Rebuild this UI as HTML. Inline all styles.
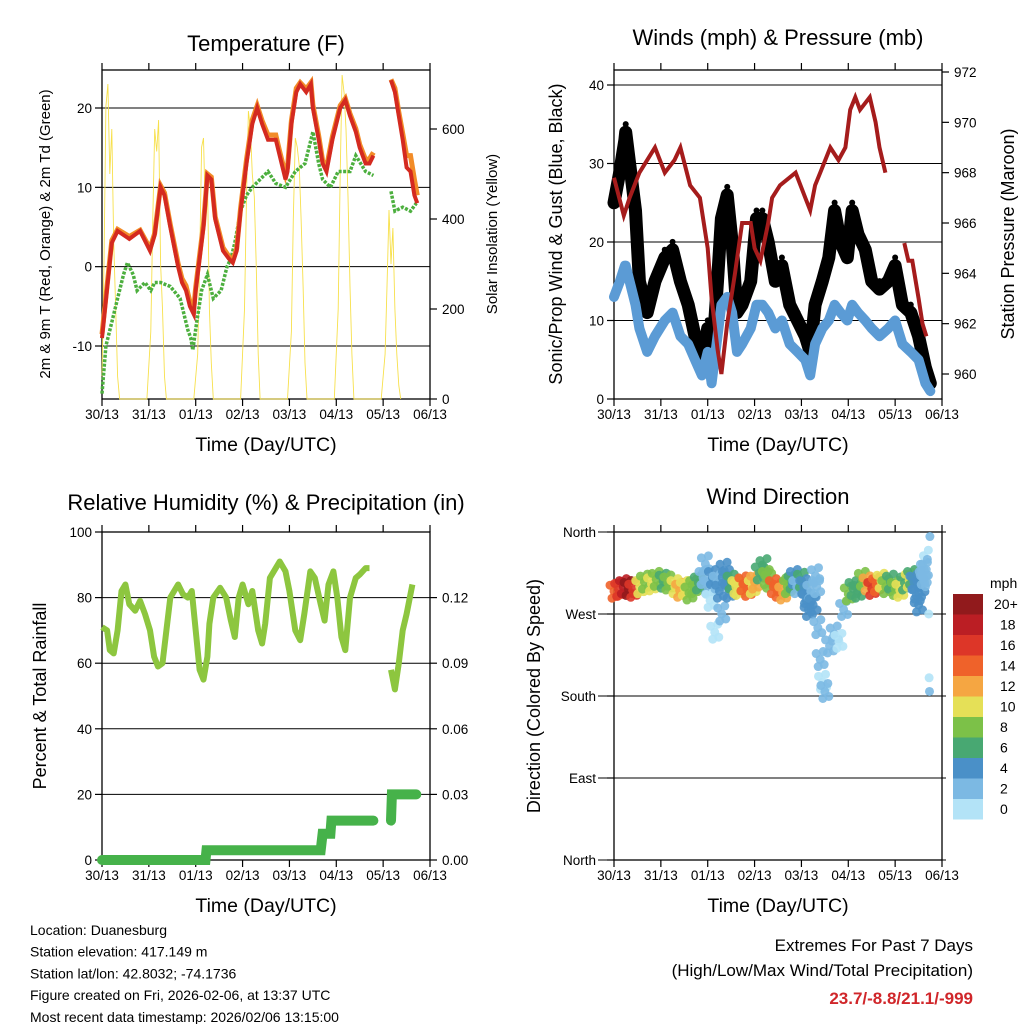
<!DOCTYPE html>
<html><head><meta charset="utf-8"><style>
body{margin:0;background:#fff;}
svg{font-family:"Liberation Sans",Arial,sans-serif;}
</style></head><body>
<svg id="c" width="1024" height="1024" viewBox="0 0 1024 1024"></svg>
<script>
// ---------- DATA (time in hours since 30/13) ----------
const dayLabels=["30/13","31/13","01/13","02/13","03/13","04/13","05/13","06/13"];
// Temperature
const redT=[0,5,8,14,19.5,24.6,27,30,32,35,39,41,43,45,47,48,50,52,54,56,58,62,65,67,69,71,74,77,79.5,82,85,89,91,94,95,97,99.5,101.5,104.6,107,108,111,113,115,118,122,124.6,127,130,132,135,137,139,null,148,150,152,154,156,158,160,161.5];
const redV=[-9,3,4.5,3.5,4.5,2,4,10,9,5,0,-2,-3,-5,-6,-3,1,5,11.5,11,6,2,1,0.5,2,7,13,18,20,18,16,16,14,11,12,18,22,23,22,23,20,16,13,12,16,20,21,19,17,15,13,13,14,null,23.5,22,19,16,12.5,12,9,8];
const orangeV=[-8.5,3.3,4.7,3.8,4.6,2.3,4.2,10.2,9.3,5.3,0.4,-1.5,-2.4,-4.4,-5.2,-2.6,1.4,5.4,11.7,11.3,6.3,2.4,1.3,0.8,2.3,7.4,13.5,18.5,20.3,18.4,16.6,16.6,14.5,11.6,12.5,18.4,22.5,23.2,22.4,23.2,20.4,16.5,13.4,12.5,16.4,20.3,21.2,19.3,17.4,15.4,13.5,13.6,14.4,null,23.6,22.5,19.5,16.8,14,14,11,9];
const tdT=[0,2,5,8,11,13,16,18,22,25,27,30,35,40,44,45.5,46.5,48.5,51,54,57,61,64,66,68,71,74,77,81,85,89,94,99,104,108,111,113,117,121,127,130,135,139,null,148,150,154,158,161];
const tdV=[-16,-10,-7,-4,-1,0.5,-1,-3,-2,-3,-2,-2,-2.5,-4,-8,-9,-10.5,-7,-3,-1,-4,-3,0,1,3,7,9,10,11,12,10.5,10,12,13,17,13,11,10,12,12,14,12,11.5,null,9.5,7,7.5,7,8];
const solarT=[0,1,2,3,4,5,6,7,8,9, 23,25,26,27,28,29,30,31,32,33, 47,49,50,51,52,53,54,55,56,57, 71,73,74,75,76,77,78,79,80,81, 95,97,98,99,100,101,102,103,104,105, 119,121,122,123,124,125,126,127,128,129, 143,145,146,147,148,149,150,151,152,153];
const solarV=[50,300,650,700,500,600,350,200,50,0, 0,150,400,600,550,620,300,200,50,0, 0,100,300,560,580,400,500,200,80,0, 0,200,450,640,600,500,450,300,100,0, 0,150,400,580,560,520,400,250,80,0, 0,200,500,720,680,600,450,250,100,0, 0,100,250,420,300,380,200,100,30,0];
// Winds
const gustT=[0,3,5.6,6,8,11,13,17,21,26,30,34,38,41.5,45,48,50,53,55,58,60.5,63,65.6,70,73,76,79,82.6,86,90,94,98,100.5,103,106.7,110,113,116,119.5,122,125,128.7,132,136,140.5,144,147.7,152,156,159.5,162];
const gustV=[25,29,33,34,30,24,15,11,15,18,19,15,12,8,5,9,4,15,23,26,20,11,12,15,23,23,20,15,17,12,10,8,6,12,15,18,24,20,18,24,21,19,15,14,15,17,12,11,8,4,2];
const windV=[13,15,17,17,15,12,9,6,8,10,11,8,7,5,3,6,2,8,12,13,11,6,7,9,12,12,11,9,10,7,6,5,3,7,9,10,12,11,10,12,11,10,9,8,9,10,7,6,5,2,1];
const presT=[0,5,8,13,21,26,31,34,39,44,48,50,53,55,58,62,65.6,70,72,75,79,81,85,93,98,100.5,103,105.6,110.8,115,118.5,121,123.6,126,131,134,136,139,null,148.7,150.8,152.8,156,158,160];
const presV=[967.8,966.3,967,968,969,968,968.5,969,967.5,967,965,963,961,960,962,964,966,966,965,964.5,966,967,967.5,968,967,966.5,967.5,968,969,968.5,969,970.5,971,970.5,971,970,969,968,null,965.2,964.5,964.5,963,962,961.5];
// Humidity / precip
const rhT=[0,2.6,4,6,8,10,12,14,17,19.5,22,24.6,26.7,28.7,31,33,35,37,39,41.5,44,46,48,50,52,54,55,57,60.5,63.6,66,68,70,72,75,77,80,82,83.6,86,89,91,94,96,99,101.5,103.6,106.7,109,112,114,116,118.5,120.5,122.6,124.6,127,130,132,135,137,null,148,150,152,154,156,159];
const rhV=[71,70,64,63,70,82,84,78,76,79,75,70,62,59,60,70,80,82,84,81,80,82,70,58,55,62,72,80,83,80,73,68,80,84,78,82,70,66,72,86,89,91,88,82,70,67,75,88,86,78,73,84,88,80,68,64,80,86,87,89,89,null,58,52,60,70,75,84];
const prT=[0,53,53.5,112,113,117,117.5,139,null,148,148.5,161];
const prV=[0,0,0.0045,0.0045,0.012,0.012,0.018,0.018,null,0.018,0.03,0.03];
// Wind direction
const dirT=[0,2.4,4.8,7.2,9.6,13.2,15.6,19.2,21.6,25.2,27.6,31.2,33.6,36,38.4,40.8,43.2,45.6,46.8,48,49.2,50.4,51.6,52.8,54,55.2,56.4,57.6,58.8,60,62.4,63.6,66,68.4,70.8,72,74.4,76.8,78,79.2,81.6,84,86.4,88.8,90,91.2,92.4,93.6,96,97.2,98.4,99.6,100.8,102,103.2,103.8,104.4,105.6,106.8,108,110.4,112.8,115.2,117.6,120,122.4,124.8,127.2,129.6,132,134.4,136.8,139.2,141.6,144,146.4,148.8,151.2,152.4,153.6,154.8,156,157.2,158.4,159];
const dirV=[295,297,300,298,296,300,305,303,308,306,304,300,296,298,293,300,304,310,325,300,285,310,250,305,295,270,318,310,295,305,300,298,303,297,300,305,315,322,310,306,300,296,293,300,303,305,310,300,307,300,285,275,295,280,312,300,255,220,195,185,235,248,240,275,292,298,295,308,303,298,302,306,300,305,298,296,304,307,310,305,290,280,300,310,318];
const dirS=[14,17,19,20,17,10,9,11,8,7,9,11,12,10,8,9,7,3,2,2,1,4,1,3,4,2,4,5,4,7,10,10,14,14,11,12,6,6,8,8,14,15,12,9,8,7,4,3,6,5,5,4,3,4,2,3,2,2,1,2,3,2,1,2,8,7,7,9,12,17,14,10,8,7,9,10,7,10,6,5,4,5,4,3,2];
const extraDirT=[157,157.5,158,158.5,159,159.5,160,160.5,161,161.2,161.4,161.6,161.8];
const extraDirV=[312,318,325,334,305,300,312,330,340,270,200,185,355];
const extraDirS=[3,2,2,1,3,2,2,3,1,1,1,2,2];
const legendLabels=["20+","18","16","14","12","10","8","6","4","2","0"];
const legendColors=["#911a1c","#bb1e24","#dd3628","#ef622a","#f5a642","#e5e057","#7cc148","#48a872","#4a90c8","#7cb9e3","#b3e3f7"];

// ---------- DRAW ----------
const svg=document.getElementById('c');
const NS="http://www.w3.org/2000/svg";
function mk(tag,attrs,parent){const e=document.createElementNS(NS,tag);for(const k in attrs)e.setAttribute(k,attrs[k]);(parent||svg).appendChild(e);return e;}
function txt(s,x,y,size,anchor,parent,extra){const t=mk('text',Object.assign({x:x,y:y,'font-size':size,'text-anchor':anchor||'middle',fill:'#000'},extra||{}),parent);t.textContent=s;return t;}
function lin(d0,d1,r0,r1){return v=>r0+(v-d0)/(d1-d0)*(r1-r0);}
function pathOf(T,V,fx,fy){let d='',pen=false;for(let i=0;i<T.length;i++){if(T[i]===null||V[i]===null){pen=false;continue;}d+=(pen?'L':'M')+fx(T[i]).toFixed(1)+' '+fy(V[i]).toFixed(1);pen=true;}return d;}

function panel(name,x0,y0,x1,y1){
  const g=mk('g',{});
  
  
  mk('rect',{x:x0,y:y0,width:x1-x0,height:y1-y0,fill:'none',stroke:'#000','stroke-width':1.3},g);
  const fx=lin(0,168,x0,x1);
  for(let i=0;i<dayLabels.length;i++){
    const x=fx(i*24);
    mk('line',{x1:x,y1:y1,x2:x,y2:y1+7,stroke:'#000','stroke-width':1.2},g);
    mk('line',{x1:x,y1:y0,x2:x,y2:y0-7,stroke:'#000','stroke-width':1.2},g);
    const t=txt(dayLabels[i],x,y1+20,13.5,'middle',g);
    
    
  }
  const xt=txt('Time (Day/UTC)',(x0+x1)/2,y1+52,19.5,'middle',g);
  
  
  return {g,fx};
}
function yTicks(g,vals,fy,x,side,labels,grid,x0,x1,size,lblOff){
  vals.forEach((v,i)=>{const y=fy(v);
    if(grid) mk('line',{x1:x0,y1:y,x2:x1,y2:y,stroke:'#000','stroke-width':1},g);
    mk('line',{x1:x,y1:y,x2:x+(side<0?-7:7),y2:y,stroke:'#000','stroke-width':1.2},g);
    const off=lblOff||(side<0?10:12);
    const t=txt(labels?labels[i]:String(v),x+(side<0?-off:off),y+5,size||13.5,side<0?'end':'start',g);
    
    
  });
}
function rotLabel(s,x,y,size,name){const t=txt(s,x,y,size,'middle',null,{transform:`rotate(-90 ${x} ${y})`});}

// Panel 1 Temperature
{const X0=102,Y0=70,X1=430,Y1=399;const p=panel('temperature-panel',X0,Y0,X1,Y1);
 const fy=lin(-10,20,346,108), fs=lin(0,600,399,129);
 yTicks(p.g,[-10,0,10,20],fy,X0,-1,null,true,X0,X1);
 yTicks(p.g,[0,200,400,600],fs,X1,1,null,false);
 const sp=mk('path',{d:pathOf(solarT,solarV,p.fx,fs),fill:'none',stroke:'#f7e04b','stroke-width':0.9},p.g);
 
 const tdp=mk('path',{d:pathOf(tdT,tdV,p.fx,fy),fill:'none',stroke:'#4caf3e','stroke-width':3.5,'stroke-dasharray':'3 1.5'},p.g);
 
 const op=mk('path',{d:pathOf(redT,orangeV,p.fx,fy),fill:'none',stroke:'#f28c28','stroke-width':5},p.g);
 
 const rp=mk('path',{d:pathOf(redT,redV,p.fx,fy),fill:'none',stroke:'#d42a20','stroke-width':4},p.g);
 
 const tt=txt('Temperature (F)',266,51,22,'middle');
 rotLabel('2m & 9m T (Red, Orange) & 2m Td (Green)',50,234,15,'temperature-y-title');
 rotLabel('Solar Insolation (Yellow)',497,234,15,'solar-y-title');
}
// Panel 2 Winds
{const X0=614,Y0=70,X1=942,Y1=399;const p=panel('winds-panel',X0,Y0,X1,Y1);
 const fy=lin(0,40,399,85), fp=lin(960,972,374,72);
 yTicks(p.g,[0,10,20,30,40],fy,X0,-1,null,true,X0,X1);
 yTicks(p.g,[960,962,964,966,968,970,972],fp,X1,1,null,false);
 const gp=mk('path',{d:pathOf(gustT,gustV,p.fx,fy),fill:'none',stroke:'#000','stroke-width':13,'stroke-linejoin':'round','stroke-linecap':'round'},p.g);
 
 gustT.forEach((t,i)=>{const c=mk('circle',{cx:p.fx(t),cy:fy(gustV[i])-8,r:3,fill:'#000'},p.g);
   });
 const wp=mk('path',{d:pathOf(gustT,windV,p.fx,fy),fill:'none',stroke:'#5b9bd5','stroke-width':10,'stroke-linejoin':'round','stroke-linecap':'round'},p.g);
 
 const pp=mk('path',{d:pathOf(presT,presV,p.fx,fp),fill:'none',stroke:'#a51c1c','stroke-width':4},p.g);
 
 const tt=txt('Winds (mph) & Pressure (mb)',778,45,22,'middle');
 rotLabel('Sonic/Prop Wind & Gust (Blue, Black)',562,234,18,'winds-y-title');
 rotLabel('Station Pressure (Maroon)',1014,234,18,'pressure-y-title');
}
// Panel 3 RH
{const X0=102,Y0=532,X1=430,Y1=860;const p=panel('humidity-panel',X0,Y0,X1,Y1);
 const fy=lin(0,100,860,532), fr=lin(0,0.15,860,532);
 yTicks(p.g,[0,20,40,60,80,100],fy,X0,-1,null,true,X0,X1);
 yTicks(p.g,[0,0.03,0.06,0.09,0.12],fr,X1,1,["0.00","0.03","0.06","0.09","0.12"],false);
 const rp=mk('path',{d:pathOf(rhT,rhV,p.fx,fy),fill:'none',stroke:'#8dc63f','stroke-width':6,'stroke-linejoin':'round'},p.g);
 
 const pr=mk('path',{d:pathOf(prT,prV,p.fx,fr),fill:'none',stroke:'#46b24a','stroke-width':10,'stroke-linecap':'round'},p.g);
 
 const tt=txt('Relative Humidity (%) & Precipitation (in)',266,510,22,'middle');
 rotLabel('Percent & Total Rainfall',46,696,18,'humidity-y-title');
}
// Panel 4 Wind direction
{const X0=614,Y0=532,X1=942,Y1=860;const p=panel('wind-direction-panel',X0,Y0,X1,Y1);
 const fy=lin(0,360,860,532);
 yTicks(p.g,[0,90,180,270,360],fy,X0,-1,["North","East","South","West","North"],true,X0-16,X1+4,13.5,18);
 function col(s){const i=Math.min(10,Math.floor(s/2));return legendColors[10-i];}
 function dots(T,V,S,dense){T.forEach((t,i)=>{
   const offs=dense?[[0,0],[-4,-6],[4,5],[-2,7],[3,-8]]:[[0,0]];
   offs.forEach(o=>{const c=mk('circle',{cx:p.fx(t)+o[0],cy:fy(V[i])+o[1],r:4.5,fill:col(S[i]),opacity:0.9},p.g);
   });});}
 dots(dirT,dirV,dirS,true);dots(extraDirT,extraDirV,extraDirS,false);
 const tt=txt('Wind Direction',778,504,22,'middle');
 rotLabel('Direction (Colored By Speed)',540,696,18,'direction-y-title');
 const lg=mk('g',{});
 txt('mph',990,588,14,'start',lg);
 legendLabels.forEach((l,i)=>{const y=594+i*20.5;
   const r=mk('rect',{x:953,y:y,width:30,height:20.5,fill:legendColors[i]},lg);
   
   txt(l,l.length>2?994:1000,y+15,14,'start',lg);});
}
// footer text
const info=["Location: Duanesburg","Station elevation: 417.149 m","Station lat/lon: 42.8032; -74.1736","Figure created on Fri, 2026-02-06, at 13:37 UTC","Most recent data timestamp: 2026/02/06 13:15:00"];
info.forEach((s,i)=>{const t=txt(s,30,935+i*21.7,14,'start');});
{let t=txt('Extremes For Past 7 Days',973,951,17,'end');
 t=txt('(High/Low/Max Wind/Total Precipitation)',973,976,17,'end');
 t=txt('23.7/-8.8/21.1/-999',973,1004,17,'end',null,{fill:'#d0262a','font-weight':'bold'});}
</script>
</body></html>
